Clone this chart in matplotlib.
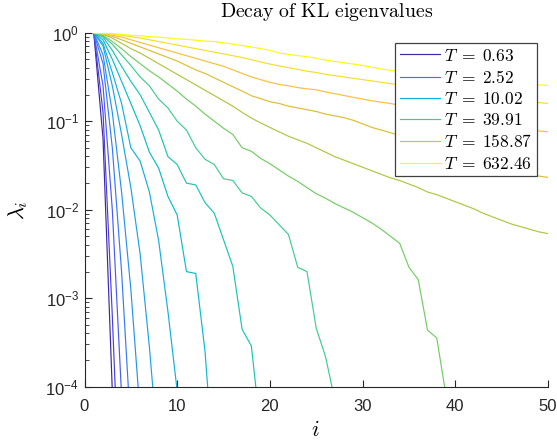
import numpy as np
import matplotlib
matplotlib.use("Agg")
import matplotlib.pyplot as plt
from matplotlib.font_manager import FontProperties

plt.rcParams['font.family'] = ['Liberation Sans', 'DejaVu Sans']
plt.rcParams['axes.unicode_minus'] = False

# ---------------- data (log10 of normalised eigenvalues, i = 1, 2, ...) -----
T_values = [0.63, 1.00, 1.59, 2.52, 3.99, 6.32, 10.02, 15.89, 25.18, 39.91,
            63.25, 100.24, 158.87, 251.80, 399.05, 632.46]
legend_idx = [0, 3, 6, 9, 12, 15]

loglam_01 = [0, -1.2, -4.05, -8.0]
loglam_02 = [0, -0.9, -3.2, -5.8]
loglam_03 = [0, -0.6, -2.0, -4.1, -7.0]
loglam_04 = [0, -0.35, -1.3, -2.7, -4.5, -6.5]
loglam_05 = [0, -0.25, -0.9, -1.8, -2.9, -4.3, -6.0]
loglam_06 = [0, -0.15, -0.6, -1.15, -1.75, -2.5, -3.55, -4.8]
loglam_07 = [0, -0.12, -0.45, -0.8, -1.3, -1.45, -1.8, -2.35, -3.15, -4.05, -5.2]
loglam_08 = [0, -0.08, -0.3, -0.55, -0.8, -1.05, -1.35, -1.53, -1.85, -2.06,
             -2.7, -2.72, -3.6, -5.0]
loglam_09 = [0, -0.05, -0.2, -0.38, -0.55, -0.7, -0.9, -1.1, -1.4, -1.49,
             -1.70, -1.72, -1.92, -2.04, -2.34, -2.64, -3.35, -3.54, -4.5]
loglam_10 = [0, -0.04, -0.13, -0.25, -0.37, -0.5, -0.6, -0.75, -0.85, -1.0,
             -1.1, -1.3, -1.43, -1.49, -1.65, -1.67, -1.81, -1.85, -1.98, -2.06,
             -2.17, -2.28, -2.65, -2.70, -3.34, -3.66, -4.15]
loglam_11 = [0, -0.03, -0.1, -0.18, -0.27, -0.35, -0.43, -0.5, -0.58, -0.66,
             -0.75, -0.83, -0.92, -1.0, -1.08, -1.15, -1.3, -1.34, -1.42, -1.48,
             -1.55, -1.62, -1.68, -1.75, -1.82, -1.87, -1.93, -1.98, -2.03, -2.09,
             -2.15, -2.22, -2.3, -2.38, -2.65, -2.79, -3.36, -3.45, -4.1]
loglam_12 = [0, -0.02, -0.06, -0.12, -0.18, -0.23, -0.29, -0.35, -0.41, -0.47,
             -0.53, -0.59, -0.65, -0.71, -0.77, -0.83, -0.9, -0.964, -1.02, -1.07,
             -1.12, -1.17, -1.21, -1.25, -1.30, -1.35, -1.40, -1.44, -1.48, -1.52,
             -1.56, -1.60, -1.64, -1.67, -1.71, -1.75, -1.80, -1.83, -1.87, -1.91,
             -1.95, -1.99, -2.04, -2.08, -2.12, -2.16, -2.19, -2.22, -2.25, -2.27]
loglam_13 = [0, -0.015, -0.04, -0.08, -0.12, -0.16, -0.2, -0.24, -0.28, -0.32,
             -0.37, -0.42, -0.46, -0.51, -0.56, -0.61, -0.66, -0.712, -0.745, -0.78,
             -0.80, -0.83, -0.85, -0.87, -0.89, -0.92, -0.94, -0.96, -0.99, -1.03,
             -1.07, -1.10, -1.13, -1.16, -1.20, -1.23, -1.26, -1.29, -1.33, -1.36,
             -1.39, -1.42, -1.45, -1.48, -1.51, -1.54, -1.57, -1.60, -1.62, -1.635]
loglam_14 = [0, -0.01, -0.03, -0.05, -0.08, -0.11, -0.14, -0.17, -0.2, -0.23,
             -0.26, -0.29, -0.32, -0.35, -0.38, -0.42, -0.46, -0.5, -0.53, -0.56,
             -0.585, -0.60, -0.62, -0.635, -0.645, -0.67, -0.69, -0.71, -0.73, -0.75,
             -0.77, -0.785, -0.80, -0.82, -0.84, -0.86, -0.88, -0.90, -0.92, -0.94,
             -0.96, -0.98, -1.0, -1.02, -1.04, -1.06, -1.08, -1.095, -1.11, -1.12]
loglam_15 = [0, -0.005, -0.015, -0.03, -0.045, -0.06, -0.08, -0.1, -0.12, -0.14,
             -0.16, -0.18, -0.2, -0.22, -0.24, -0.26, -0.28, -0.305, -0.33, -0.355,
             -0.375, -0.395, -0.415, -0.435, -0.45, -0.47, -0.485, -0.5, -0.515, -0.53,
             -0.545, -0.56, -0.575, -0.59, -0.605, -0.62, -0.635, -0.645, -0.66, -0.675,
             -0.685, -0.70, -0.71, -0.725, -0.735, -0.75, -0.76, -0.775, -0.79, -0.80]
loglam_16 = [0, -0.01, -0.01, -0.02, -0.03, -0.035, -0.045, -0.05, -0.06, -0.07,
             -0.075, -0.085, -0.095, -0.10, -0.115, -0.13, -0.145, -0.162, -0.18, -0.20,
             -0.23, -0.245, -0.26, -0.27, -0.29, -0.31, -0.325, -0.34, -0.355, -0.37,
             -0.39, -0.41, -0.425, -0.44, -0.455, -0.465, -0.475, -0.485, -0.495, -0.505,
             -0.515, -0.525, -0.535, -0.545, -0.555, -0.565, -0.575, -0.582, -0.59, -0.595]

all_loglam = [loglam_01, loglam_02, loglam_03, loglam_04, loglam_05, loglam_06,
              loglam_07, loglam_08, loglam_09, loglam_10, loglam_11, loglam_12,
              loglam_13, loglam_14, loglam_15, loglam_16]

# parula(16)-like colours
colors = [(0.2422, 0.1504, 0.6603), (0.2760, 0.2470, 0.8740), (0.2780, 0.3560, 0.9770),
          (0.2120, 0.4700, 0.9960), (0.1540, 0.5700, 0.9450), (0.1100, 0.6350, 0.9000),
          (0.0700, 0.6900, 0.8700), (0.0300, 0.7400, 0.8000), (0.1000, 0.7700, 0.7000),
          (0.2500, 0.8000, 0.5500), (0.4500, 0.8000, 0.3800), (0.6800, 0.7800, 0.2500),
          (0.8700, 0.7400, 0.2000), (0.9900, 0.7500, 0.2300), (0.9700, 0.8700, 0.1600),
          (0.9769, 0.9839, 0.0805)]

W, H = 557, 441
fig = plt.figure(figsize=(W / 100, H / 100), dpi=100)
ax_l, ax_r, ax_t, ax_b = 84.5, 548.0, 32.7, 386.7
ax = fig.add_axes([ax_l / W, 1 - ax_b / H, (ax_r - ax_l) / W, (ax_b - ax_t) / H])

handles = []
for k, ll in enumerate(all_loglam):
    i = np.arange(1, len(ll) + 1)
    lam = 10.0 ** np.array(ll)
    lab = r'$T \;=\; %.2f$' % T_values[k] if k in legend_idx else None
    h, = ax.semilogy(i, lam, color=colors[k], lw=0.85, label=lab)
    if k in legend_idx:
        handles.append(h)

ax.set_xlim(0, 50)
ax.set_ylim(1e-4, 1)
ax.set_xticks([0, 10, 20, 30, 40, 50])
for s in ['top', 'right']:
    ax.spines[s].set_visible(False)
for s in ['left', 'bottom']:
    ax.spines[s].set_color('0.15')
    ax.spines[s].set_linewidth(0.8)
ax.tick_params(which='both', direction='in', colors='0.15', labelsize=12,
               top=False, right=False)
ax.tick_params(which='major', length=5, width=0.8)
ax.tick_params(which='minor', length=3, width=0.6)
ax.tick_params(axis='x', which='major', pad=9)
ax.tick_params(axis='y', which='major', pad=4)

ax.set_title(r'$\mathrm{Decay\ of\ KL\ eigenvalues}$', math_fontfamily='cm',
             fontsize=14.3, color='black', pad=11,
             x=(326.5 - ax_l) / (ax_r - ax_l))
ax.set_xlabel(r'$i$', math_fontfamily='cm', fontsize=16)
ax.set_ylabel(r'$\lambda_i$', math_fontfamily='cm', fontsize=16)
ax.xaxis.set_label_coords((315 - ax_l) / (ax_r - ax_l), (ax_b - 430) / (ax_b - ax_t))
ax.xaxis.label.set_va('center')
ax.yaxis.set_label_coords((18 - ax_l) / (ax_r - ax_l), (ax_b - 210) / (ax_b - ax_t))
ax.yaxis.label.set_va('center')

leg = ax.legend(handles=handles, loc='upper right',
                bbox_to_anchor=((536.7 - ax_l) / (ax_r - ax_l), (ax_b - 42.7) / (ax_b - ax_t)),
                borderaxespad=0, fancybox=False, framealpha=1, edgecolor='0.25',
                prop=FontProperties(size=12.5, math_fontfamily='cm'),
                handlelength=2.3, handletextpad=0.23, labelspacing=0.3,
                borderpad=0.28)
leg.get_frame().set_linewidth(0.9)

fig.savefig('out.png', dpi=100)
